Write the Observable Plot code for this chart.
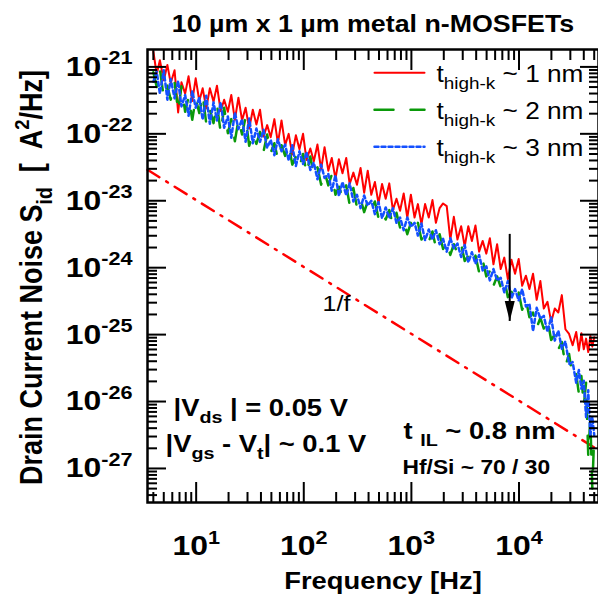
<!DOCTYPE html>
<html>
<head>
<meta charset="utf-8">
<script src="https://cdn.jsdelivr.net/npm/d3@7"></script>
<script src="https://cdn.jsdelivr.net/npm/@observablehq/plot@0.6"></script>
<style>
html, body { margin: 0; padding: 0; background: #ffffff; }
svg text { white-space: pre; }
</style>
</head>
<body>
<div id="chart"></div>
<script>
// ---------- data ----------
const freqHz = [
  4.0, 4.3, 4.6, 5.0, 5.4, 5.8, 6.3, 6.8, 7.3, 7.9,
  8.5, 9.2, 9.9, 10.7, 11.5, 12.4, 13.4, 14.5, 15.6, 16.9,
  18.2, 19.7, 21.2, 22.9, 24.7, 26.7, 28.8, 31.1, 33.6, 36.3,
  39.2, 42.3, 45.7, 49.3, 53.3, 57.5, 62.1, 67.1, 72.4, 78.2,
  84.5, 91.2, 98.5, 106, 115, 124, 134, 145, 156, 169,
  182, 197, 212, 229, 248, 267, 289, 312, 337, 364,
  393, 424, 458, 495, 534, 577, 623, 673, 727, 785,
  848, 916, 989, 1070, 1150, 1240, 1340, 1450, 1570, 1690,
  1830, 1970, 2130, 2300, 2480, 2680, 2900, 3130, 3380, 3650,
  3940, 4260, 4600, 4970, 5360, 5790, 6260, 6760, 7300, 7880,
  8510, 9190, 9930, 10700, 11600, 12500, 13500, 14600, 15800, 17000,
  18400, 19900, 21500, 23200, 25000, 27000, 29200, 31500, 34000, 36000,
  38000, 40000, 42000, 44000, 46000, 48000, 50000
];

// log10 of S_id [A^2/Hz] for each series
const sid1nmLog10 = [
  -20.77, -21.11, -20.90, -21.20, -20.97, -21.24, -21.05, -21.68, -21.23, -21.40,
  -21.14, -21.51, -21.17, -21.51, -21.32, -21.62, -21.32, -21.52, -21.28, -21.66,
  -21.49, -21.67, -21.42, -21.79, -21.46, -21.80, -21.61, -21.92, -21.64, -21.86,
  -21.64, -22.04, -21.87, -22.05, -21.78, -22.14, -21.80, -22.17, -22.00, -22.31,
  -22.02, -22.23, -22.00, -22.39, -22.22, -22.41, -22.16, -22.53, -22.20, -22.55,
  -22.36, -22.67, -22.38, -22.59, -22.36, -22.75, -22.58, -22.76, -22.51, -22.88,
  -22.55, -22.91, -22.72, -23.04, -22.75, -22.97, -22.74, -23.14, -22.97, -23.15,
  -22.89, -23.25, -22.91, -23.25, -23.05, -23.35, -23.05, -23.25, -22.99, -23.33,
  -23.11, -23.04, -23.08, -23.58, -23.24, -23.58, -23.38, -23.68, -23.38, -23.60,
  -23.37, -23.76, -23.60, -23.79, -23.56, -23.95, -23.65, -24.02, -23.85, -24.17,
  -23.88, -24.09, -23.87, -24.27, -24.12, -24.32, -24.09, -24.48, -24.20, -24.61,
  -24.51, -24.81, -24.61, -24.67, -24.41, -24.92, -24.99, -25.16, -24.96, -25.24,
  -24.98, -25.22, -25.06, -25.26, -25.02, -25.18, -25.04
];
const sid2nmLog10 = [
  -21.08, -21.30, -21.03, -21.46, -21.28, -21.49, -21.23, -21.66, -21.29, -21.67,
  -21.45, -21.79, -21.47, -21.69, -21.42, -21.84, -21.64, -21.84, -21.56, -21.98,
  -21.61, -21.99, -21.78, -22.11, -21.79, -22.01, -21.75, -22.18, -22.00, -22.15,
  -21.97, -22.26, -22.01, -22.28, -22.14, -22.38, -22.17, -22.33, -22.16, -22.46,
  -22.34, -22.49, -22.30, -22.59, -22.34, -22.62, -22.50, -22.76, -22.57, -22.77,
  -22.61, -22.91, -22.79, -22.95, -22.77, -23.06, -22.81, -23.10, -22.97, -23.17,
  -23.01, -23.14, -23.01, -23.26, -23.16, -23.28, -23.14, -23.37, -23.18, -23.40,
  -23.30, -23.50, -23.33, -23.47, -23.33, -23.58, -23.49, -23.61, -23.46, -23.70,
  -23.50, -23.72, -23.62, -23.81, -23.65, -23.78, -23.65, -23.90, -23.82, -23.95,
  -23.82, -24.07, -23.89, -24.13, -24.05, -24.27, -24.13, -24.29, -24.18, -24.44,
  -24.36, -24.50, -24.37, -24.63, -24.48, -24.74, -24.67, -24.90, -24.75, -24.91,
  -24.77, -25.08, -25.00, -25.22, -25.11, -25.47, -25.29, -25.65, -25.59, -25.88,
  -25.62, -26.06, -25.72, -26.80, -26.26, -27.30, -26.50
];
const sid3nmLog10 = [
  -21.22, -21.07, -21.40, -21.05, -21.49, -21.18, -21.47, -21.21, -21.59, -21.42,
  -21.73, -21.36, -21.61, -21.46, -21.79, -21.43, -21.85, -21.53, -21.80, -21.53,
  -21.91, -21.74, -22.06, -21.68, -21.93, -21.78, -22.12, -21.77, -22.14, -21.92,
  -22.12, -21.94, -22.21, -22.09, -22.32, -22.08, -22.26, -22.16, -22.40, -22.17,
  -22.48, -22.26, -22.45, -22.27, -22.54, -22.43, -22.68, -22.46, -22.66, -22.60,
  -22.85, -22.62, -22.93, -22.72, -22.92, -22.74, -23.01, -22.91, -23.11, -22.92,
  -23.07, -23.00, -23.20, -23.02, -23.26, -23.10, -23.26, -23.11, -23.33, -23.25,
  -23.44, -23.25, -23.39, -23.33, -23.52, -23.34, -23.59, -23.43, -23.58, -23.44,
  -23.65, -23.57, -23.76, -23.56, -23.71, -23.64, -23.84, -23.66, -23.92, -23.77,
  -23.94, -23.81, -24.04, -23.98, -24.19, -24.02, -24.19, -24.15, -24.37, -24.20,
  -24.46, -24.32, -24.49, -24.32, -24.58, -24.54, -24.95, -24.60, -24.76, -24.72,
  -24.96, -24.74, -25.09, -24.94, -25.21, -25.10, -25.44, -25.41, -25.72, -25.53,
  -25.81, -25.69, -26.23, -25.83, -26.52, -26.23, -26.50
];

const seriesNames = ["1 nm", "2 nm", "3 nm"];
const seriesLabels = ["t_{high-k} ~ 1 nm", "t_{high-k} ~ 2 nm", "t_{high-k} ~ 3 nm"];

// 1/f reference line (two end points)
const oneOverFFreq = [3.53, 50000];
const oneOverFValue = [2.9e-23, 2.06e-27];

// arrow annotation
const arrowFreq = [8200];
const arrowFrom = [3.2e-24];
const arrowTo = [1.6e-25];

// axes
const xMajorTicks = [10, 100, 1000, 10000];
const xTickLabels = ["10^{1}", "10^{2}", "10^{3}", "10^{4}"];
const yMajorTicks = [1e-21, 1e-22, 1e-23, 1e-24, 1e-25, 1e-26, 1e-27];
const yTickLabels = ["10^{-21}", "10^{-22}", "10^{-23}", "10^{-24}", "10^{-25}", "10^{-26}", "10^{-27}"];

const titleText = "10 µm x 1 µm metal n-MOSFETs";
const xTitle = "Frequency [Hz]";
const yTitle = "Drain Current Noise S_{id}  [  A^{2}/Hz]";
const vdsText = "|V_{ds} | = 0.05 V";
const vgsText = "|V_{gs} - V_{t}| ~ 0.1 V";
const tilText = "t _{IL} ~ 0.8 nm";
const hfsiText = "Hf/Si ~ 70 / 30";
const slopeText = "1/f";

// ---------- build ----------
const xDomain = [3.53, 54800];
const yDomain = [3.1e-28, 1.82e-21];

const xMinorTicks = [];
for (const dec of [1, 10, 100, 1000, 10000]) for (let m = 2; m <= 9; m++) {
  const v = m * dec; if (v > xDomain[0] && v < xDomain[1]) xMinorTicks.push(v);
}
const yMinorTicks = [];
for (let e = -28; e <= -22; e++) for (let m = 2; m <= 9; m++) {
  const v = m * Math.pow(10, e); if (v > yDomain[0] && v < yDomain[1]) yMinorTicks.push(v);
}

const colors = ["#ff0000", "#0a990a", "#1450ff"];
const dashes = [null, "19,17", "4,3"];
const widths = [2, 2.5, 2.5];
const logs = [sid1nmLog10, sid2nmLog10, sid3nmLog10];

const rows = [];
seriesNames.forEach((name, k) => {
  freqHz.forEach((f, i) => rows.push({series: name, f, S: Math.pow(10, logs[k][i])}));
});
const oneOverF = oneOverFFreq.map((f, i) => ({f, S: oneOverFValue[i]}));
const arrow = arrowFreq.map((f, i) => ({f, y1: arrowFrom[i], y2: arrowTo[i]}));

const xLab = new Map(xMajorTicks.map((d, i) => [d, xTickLabels[i]]));
const yLab = new Map(yMajorTicks.map((d, i) => [d, yTickLabels[i]]));

const lineShape = {draw(ctx, l) { ctx.moveTo(0, 0); ctx.lineTo(0, -l); }};
const headShape = {draw(ctx) { ctx.moveTo(0, 0); ctx.lineTo(-5, -20); ctx.lineTo(5, -20); ctx.closePath(); }};

const tickAxes = [];
for (const anchor of ["bottom", "top"]) {
  tickAxes.push(Plot.axisX(xMajorTicks, {anchor, tickSize: -20, strokeWidth: 2, tickFormat: () => "", label: null}));
  tickAxes.push(Plot.axisX(xMinorTicks, {anchor, tickSize: -10, strokeWidth: 2, tickFormat: () => "", label: null}));
}
for (const anchor of ["left", "right"]) {
  tickAxes.push(Plot.axisY(yMajorTicks, {anchor, tickSize: -19, strokeWidth: 2, tickFormat: () => "", label: null}));
  tickAxes.push(Plot.axisY(yMinorTicks, {anchor, tickSize: -10, strokeWidth: 2, tickFormat: () => "", label: null}));
}

const legendMarks = [];
seriesNames.forEach((name, k) => {
  legendMarks.push(Plot.vector([name], {
    frameAnchor: "top-left", dx: 227, dy: 23.3 + k * 37, length: 50, rotate: 90, anchor: "start",
    shape: lineShape, stroke: colors[k], strokeWidth: widths[k], strokeDasharray: dashes[k] ?? undefined
  }));
  legendMarks.push(Plot.text([seriesLabels[k]], {
    text: d => d, frameAnchor: "top-left", dx: 289, dy: 25.6 + k * 37, textAnchor: "start", lineAnchor: "middle",
    fontSize: 23, fill: "black"
  }));
});

const txt = (s, o) => Plot.text([s], {text: d => d, lineAnchor: "middle", ...o});

const plot = Plot.plot({
  width: 598,
  height: 602,
  marginLeft: 147,
  marginRight: 0,
  marginTop: 49,
  marginBottom: 100,
  style: {fontFamily: "'Liberation Sans', Arial, Helvetica, sans-serif", background: "#ffffff", color: "black"},
  x: {type: "log", domain: xDomain, label: null},
  y: {type: "log", domain: yDomain, label: null},
  marks: [
    Plot.line(oneOverF, {x: "f", y: "S", stroke: "#ff0000", strokeWidth: 2.5, strokeDasharray: "14,8,2,8"}),
    ...seriesNames.map((name, k) => Plot.line(rows.filter(d => d.series === name), {
      x: "f", y: "S", stroke: colors[k], strokeWidth: widths[k],
      strokeDasharray: dashes[k] ?? undefined, clip: true
    })),
    Plot.link(arrow, {x1: "f", x2: "f", y1: "y1", y2: "y2", stroke: "black", strokeWidth: 2}),
    Plot.dot(arrow, {x: "f", y: "y2", symbol: headShape, fill: "black", stroke: "none", r: 5}),
    ...tickAxes,
    Plot.axisX(xMajorTicks, {anchor: "bottom", tickSize: 0, tickPadding: 44, lineAnchor: "middle",
      tickFormat: d => xLab.get(d), fontSize: 28, fontWeight: "bold", label: null}),
    Plot.axisY(yMajorTicks, {anchor: "left", tickSize: 0, tickPadding: 15,
      tickFormat: d => yLab.get(d), fontSize: 28, fontWeight: "bold", label: null}),
    Plot.frame({stroke: "black", strokeWidth: 2.5}),
    txt(titleText, {frameAnchor: "top", textAnchor: "middle", dy: -25, fontSize: 23.5, fontWeight: "bold"}),
    txt(xTitle, {frameAnchor: "bottom", textAnchor: "middle", dx: 10, dy: 79, fontSize: 24, fontWeight: "bold"}),
    txt(yTitle, {frameAnchor: "left", textAnchor: "middle", dx: -115, dy: 1.5, rotate: -90, fontSize: 27, fontWeight: "bold"}),
    ...legendMarks,
    txt(vdsText, {frameAnchor: "bottom-left", textAnchor: "start", dx: 26, dy: -94, fontSize: 24, fontWeight: "bold"}),
    txt(vgsText, {frameAnchor: "bottom-left", textAnchor: "start", dx: 18, dy: -58, fontSize: 24, fontWeight: "bold"}),
    txt(tilText, {frameAnchor: "bottom-left", textAnchor: "start", dx: 256, dy: -71, fontSize: 24, fontWeight: "bold"}),
    txt(hfsiText, {frameAnchor: "bottom-left", textAnchor: "start", dx: 255, dy: -35, fontSize: 20, fontWeight: "bold"}),
    txt(slopeText, {frameAnchor: "top-left", textAnchor: "middle", dx: 189, dy: 254, fontSize: 22})
  ]
});

document.getElementById("chart").appendChild(plot);

// ---------- rich text: ^{..} superscripts, _{..} subscripts; horizontal stretch ----------
const NS = "http://www.w3.org/2000/svg";
plot.querySelectorAll("text").forEach(t => {
  const s = t.textContent;
  if (/[\^_]\{/.test(s)) {
    const fs = parseFloat(getComputedStyle(t).fontSize);
    const parts = s.split(/([\^_]\{[^}]*\})/);
    t.textContent = "";
    let shift = 0;
    for (const p of parts) {
      if (!p) continue;
      const ts = document.createElementNS(NS, "tspan");
      let target = 0, content = p, size = null;
      if (p.startsWith("^{")) { target = -0.42 * fs; size = 0.68 * fs; content = p.slice(2, -1); }
      else if (p.startsWith("_{")) { target = 0.3 * fs; size = 0.72 * fs; content = p.slice(2, -1); }
      const d = target - shift;
      if (d !== 0) ts.setAttribute("dy", d.toFixed(2));
      shift = target;
      if (size) ts.setAttribute("font-size", size.toFixed(1));
      ts.textContent = content;
      t.appendChild(ts);
    }
  }
  const tr = t.getAttribute("transform") || "";
  if (tr.includes("rotate")) t.setAttribute("transform", tr.replace("rotate", "scale(1.14,1) rotate"));
  else t.setAttribute("transform", (tr + " scale(1.14,1)").trim());
});
</script>
</body>
</html>
